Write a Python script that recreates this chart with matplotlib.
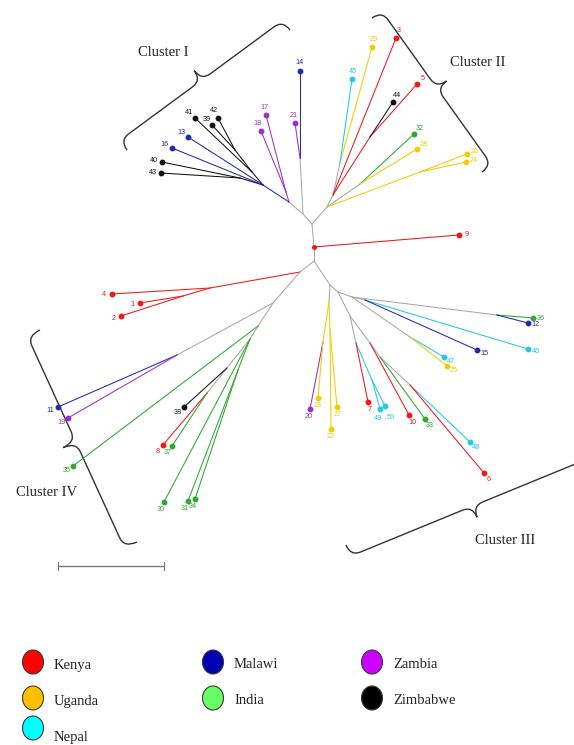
import numpy as np
import matplotlib.pyplot as plt
from matplotlib.patches import Ellipse, PathPatch
from matplotlib.path import Path

# country colours used in the tree and in the key
TREE_COL = {
    'Kenya': '#F01818', 'Uganda': '#F2CC00', 'Nepal': '#22C8EA',
    'Malawi': '#2828A8', 'India': '#2EA82E', 'Zambia': '#9B30C8',
    'Zimbabwe': '#111111',
}
KEY_COL = {
    'Kenya': '#FF0000', 'Uganda': '#FFC000', 'Nepal': '#00FFFF',
    'Malawi': '#0000B0', 'India': '#66FF66', 'Zambia': '#CC00FF',
    'Zimbabwe': '#000000',
}
GREY = '#A8A8A8'

# internal nodes of the unrooted tree (layout coords) and the colour of the branch above them
inner_id = ['rt', 'top', 'bot',
            'c1a', 'c1b', 'c1c', 'c1d', 'c1e', 'c1f', 'c1g', 'c1h',
            'c2a', 'c2b', 'c2c', 'c2d', 'c2e', 'c2f',
            'k4a', 'k4b', 'k4c',
            'c4a', 'c4b', 'c4c', 'c4d', 'c4e', 'c4f', 'c4g',
            'c3a', 'c3b', 'c3c', 'c3d', 'c3e', 'c3f', 'c3g', 'c3h', 'c3i', 'c3j', 'c3k',
            'c3l', 'c3m', 'c3n', 'c3o']
inner_parent = [None, 'rt', 'rt',
                'top', 'c1a', 'c1a', 'c1c', 'c1c', 'c1e', 'c1f', 'c1e',
                'top', 'c2a', 'c2b', 'c2b', 'c2a', 'c2a',
                'bot', 'k4a', 'k4b',
                'k4a', 'c4a', 'c4a', 'c4c', 'c4d', 'c4e', 'c4d',
                'bot', 'c3a', 'c3b', 'c3b', 'c3a', 'c3e', 'c3f', 'c3g', 'c3f', 'c3i', 'c3j',
                'c3e', 'c3l', 'c3l', 'c3l']
inner_x = [314, 312, 314,
           303, 300, 289, 286, 263, 252, 235, 240,
           327, 333, 340, 370, 360, 420,
           300, 210, 183,
           273, 177, 258, 250, 227, 207, 238,
           330, 329, 323, 330, 338, 350, 356, 372, 370, 380, 410,
           352, 497, 365, 410]
inner_y = [247, 224, 261,
           214, 158, 202, 192, 185, 172, 150, 178,
           207, 195, 163, 137, 184, 172,
           272, 288, 296,
           303, 355, 326, 339, 368, 393, 370,
           285, 302, 342, 330, 292, 316, 343, 380, 343, 357, 385,
           297, 315, 300, 337]
inner_branch = [None, None, None,
                None, None, None, 'Zambia', 'Malawi', 'Zimbabwe', 'Zimbabwe', 'Zimbabwe',
                None, None, None, 'Kenya', None, 'Uganda',
                None, 'Kenya', 'Kenya',
                None, None, None, None, None, None, 'India',
                None, None, 'Uganda', 'Uganda', None, None, None, 'Nepal', None, None, None,
                None, None, None, None]

# isolates (tips)
tip_label = ['14', '21', '17', '18', '41', '42', '39', '13', '16', '40', '43',
             '29', '45', '3', '5', '44', '32', '28', '26', '24',
             '9', '4', '1', '2',
             '11', '19', '35', '38', '8', '37', '30', '31', '34',
             '20', '23', '22', '27', '7', '49', '50', '10', '33', '48', '6',
             '36', '12', '46', '15', '47', '25']
tip_parent = ['c1b', 'c1b', 'c1d', 'c1d', 'c1f', 'c1g', 'c1g', 'c1e', 'c1e', 'c1h', 'c1h',
              'c2c', 'c2c', 'c2b', 'c2d', 'c2d', 'c2e', 'c2e', 'c2f', 'c2f',
              'rt', 'k4b', 'k4c', 'k4c',
              'c4b', 'c4b', 'c4c', 'c4e', 'c4f', 'c4f', 'c4d', 'c4g', 'c4g',
              'c3c', 'c3c', 'c3d', 'c3d', 'c3g', 'c3h', 'c3h', 'c3i', 'c3j', 'c3k', 'c3k',
              'c3m', 'c3m', 'c3n', 'c3n', 'c3o', 'c3o']
tip_x = [300, 295, 266, 261, 195, 218, 212, 188, 172, 162, 161,
         372, 352, 396, 417, 393, 414, 417, 467, 466,
         459, 112, 140, 121,
         58, 68, 73, 184, 163, 172, 164, 188, 195,
         310, 318, 331, 337, 368, 380, 385, 409, 425, 470, 484,
         533, 528, 528, 477, 444, 447]
tip_y = [71, 123, 115, 131, 118, 118, 125, 137, 148, 162, 173,
         47, 79, 38, 84, 102, 134, 149, 154, 162,
         235, 294, 303, 316,
         407, 418, 466, 407, 445, 446, 502, 501, 499,
         409, 398, 429, 407, 402, 409, 406, 415, 419, 442, 473,
         318, 323, 349, 350, 357, 366]
tip_country = ['Malawi', 'Zambia', 'Zambia', 'Zambia', 'Zimbabwe', 'Zimbabwe', 'Zimbabwe',
               'Malawi', 'Malawi', 'Zimbabwe', 'Zimbabwe',
               'Uganda', 'Nepal', 'Kenya', 'Kenya', 'Zimbabwe', 'India', 'Uganda', 'Uganda', 'Uganda',
               'Kenya', 'Kenya', 'Kenya', 'Kenya',
               'Malawi', 'Zambia', 'India', 'Zimbabwe', 'Kenya', 'India', 'India', 'India', 'India',
               'Zambia', 'Uganda', 'Uganda', 'Uganda', 'Kenya', 'Nepal', 'Nepal', 'Kenya', 'India',
               'Nepal', 'Kenya',
               'India', 'Malawi', 'Nepal', 'Malawi', 'Nepal', 'Uganda']

clusters = ['Cluster I', 'Cluster II', 'Cluster III', 'Cluster IV']
key_order = ['Kenya', 'Malawi', 'Zambia', 'Uganda', 'India', 'Zimbabwe', 'Nepal']

# small label nudges where two tips sit side by side
NUDGE = {'49': (-4, 2), '50': (2, 4)}


def brace(ax, p0, p1, h, a=11, **kw):
    p0, p1 = np.asarray(p0, float), np.asarray(p1, float)
    d = p1 - p0
    L = np.hypot(*d)
    u = d / L
    n = np.array([u[1], -u[0]])
    loc = [(0, 0), (0, h / 2), (a, h / 2), (L / 2 - a, h / 2), (L / 2, h / 2), (L / 2, h),
           (L / 2, h / 2), (L / 2 + a, h / 2), (L - a, h / 2), (L, h / 2), (L, 0)]
    verts = [p0 + s * u + t * n for s, t in loc]
    codes = [Path.MOVETO, Path.CURVE3, Path.CURVE3, Path.LINETO, Path.CURVE3, Path.CURVE3,
             Path.CURVE3, Path.CURVE3, Path.LINETO, Path.CURVE3, Path.CURVE3]
    ax.add_patch(PathPatch(Path(verts, codes), fill=False, **kw))


fig = plt.figure(figsize=(5.74, 7.45), dpi=100)
ax = fig.add_axes([0, 0, 1, 1])
ax.set_xlim(0, 574)
ax.set_ylim(745, 0)
ax.axis('off')

pos = {k: (x, y) for k, x, y in zip(inner_id, inner_x, inner_y)}

# internal branches
for k, par, br in zip(inner_id, inner_parent, inner_branch):
    if par is None:
        continue
    (x0, y0), (x1, y1) = pos[par], pos[k]
    ax.plot([x0, x1], [y0, y1], color=TREE_COL[br] if br else GREY, lw=0.75,
            solid_capstyle='round', zorder=2)

# terminal branches, tips and labels
for lab, par, x, y, c in zip(tip_label, tip_parent, tip_x, tip_y, tip_country):
    x0, y0 = pos[par]
    col = TREE_COL[c]
    ax.plot([x0, x], [y0, y], color=col, lw=0.75, zorder=3)
    ax.plot(x, y, 'o', color=col, ms=3.2, mec=col, zorder=4)
    v = np.array([x - x0, y - y0], float)
    v /= np.hypot(*v)
    dx, dy = NUDGE.get(lab, (0, 0))
    ax.text(x + 8 * v[0] + dx, y + 8 * v[1] + dy, lab, color=col, fontsize=5.2,
            family='Liberation Sans', ha='center', va='center', zorder=5)

ax.plot(*pos['rt'], 'o', color=TREE_COL['Kenya'], ms=2.6, zorder=4)

# cluster braces
bk = dict(edgecolor='#333333', lw=1.0, zorder=1)
brace(ax, (127, 150), (290, 30), 24, **bk)
brace(ax, (372, 18), (482, 172), 24, **bk)
brace(ax, (346, 545), (590, 445), -24, **bk)
brace(ax, (40, 330), (137, 542), -28, **bk)
sf = dict(fontsize=10.5, family='Liberation Serif', color='#222222', ha='center', va='center')
for name, (tx, ty) in zip(clusters, [(163, 52), (478, 63), (505, 541), (47, 493)]):
    ax.text(tx, ty, name, **sf)

# scale bar
ax.plot([58, 164], [566, 566], color='#777777', lw=1.0)
ax.plot([58, 58], [562, 570], color='#777777', lw=0.8)
ax.plot([164, 164], [562, 570], color='#777777', lw=0.8)

# key
col_x = [33, 213, 372]
row_y = [662, 698, 728]
txt_y = [665, 701, 738]
for i, name in enumerate(key_order):
    r, c = divmod(i, 3)
    ax.add_patch(Ellipse((col_x[c], row_y[r]), 21, 24, facecolor=KEY_COL[name],
                         edgecolor='#3A3A3A', lw=0.8))
    ax.text(col_x[c] + 21, txt_y[r], name, fontsize=10.5, family='Liberation Serif',
            color='#222222', ha='left', va='center')

fig.savefig('out.png', dpi=100, facecolor='white')
